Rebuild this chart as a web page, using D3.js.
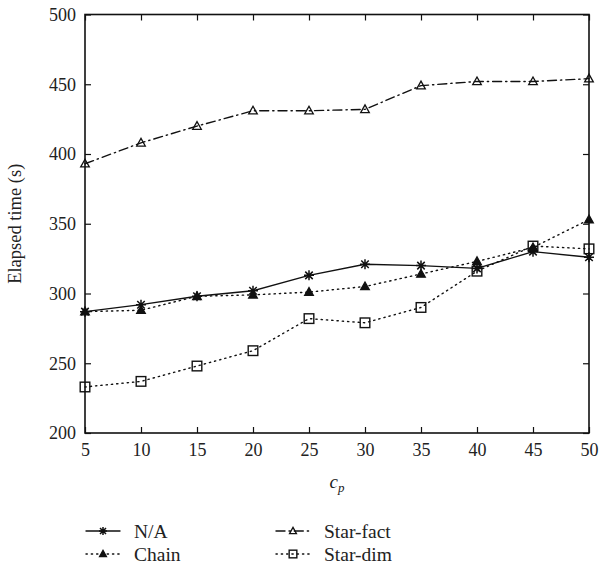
<!DOCTYPE html>
<html>
<head>
<meta charset="utf-8">
<script src="https://cdn.jsdelivr.net/npm/d3@7"></script>
<style>
  body { margin: 0; background: #fff; }
  text { font-family: "Liberation Serif", "DejaVu Serif", serif; fill: #222; }
</style>
</head>
<body>
<svg width="599" height="571"></svg>
<script>
// data
var cp = [5, 10, 15, 20, 25, 30, 35, 40, 45, 50];
var naValues = [287, 292, 298, 302, 313, 321, 320, 318, 330, 326];
var chainValues = [287, 288, 298, 299, 301, 305, 314, 323, 333, 353];
var starFactValues = [393, 408, 420, 431, 431, 432, 449, 452, 452, 454];
var starDimValues = [233, 237, 248, 259, 282, 279, 290, 316, 334, 332];
var yTicks = [200, 250, 300, 350, 400, 450, 500];

var series = [
  { name: "N/A", values: naValues, dash: null, marker: "star" },
  { name: "Chain", values: chainValues, dash: "1.3,4", marker: "filledTri" },
  { name: "Star-fact", values: starFactValues, dash: "9,4,1.3,4", marker: "openTri" },
  { name: "Star-dim", values: starDimValues, dash: "1.3,4", marker: "square" }
];

var svg = d3.select("svg");
var margin = { top: 14.5, right: 10, bottom: 138, left: 85 },
  width = 599 - margin.left - margin.right,
  height = 571 - margin.top - margin.bottom;

var g = svg.append("g")
  .attr("transform", "translate(" + margin.left + "," + margin.top + ")");

var x = d3.scaleLinear().domain([5, 50]).range([0, width]);
var y = d3.scaleLinear().domain([200, 500]).range([height, 0]);

// frame
g.append("rect")
  .attr("width", width).attr("height", height)
  .attr("fill", "none").attr("stroke", "#111").attr("stroke-width", 1.6);

// axes with inward ticks (mirrored on top/right)
var tickLen = 6;
g.append("g").attr("transform", "translate(0," + height + ")")
  .call(d3.axisBottom(x).tickValues(cp).tickSize(-tickLen).tickPadding(10))
  .call(styleAxis);
g.append("g")
  .call(d3.axisTop(x).tickValues(cp).tickSize(-tickLen).tickFormat(""))
  .call(styleAxis);
g.append("g")
  .call(d3.axisLeft(y).tickValues(yTicks).tickSize(-tickLen).tickPadding(9))
  .call(styleAxis);
g.append("g").attr("transform", "translate(" + width + ",0)")
  .call(d3.axisRight(y).tickValues(yTicks).tickSize(-tickLen).tickFormat(""))
  .call(styleAxis);

function styleAxis(sel) {
  sel.select(".domain").remove();
  sel.selectAll(".tick line").attr("stroke", "#111").attr("stroke-width", 1.2);
  sel.selectAll(".tick text")
    .attr("font-family", "Liberation Serif, serif")
    .attr("font-size", 18).attr("fill", "#222");
}

// axis labels
svg.append("text")
  .attr("transform", "translate(21," + (margin.top + height / 2) + ") rotate(-90)")
  .attr("text-anchor", "middle")
  .attr("font-size", 18.5)
  .text("Elapsed time (s)");

var xl = svg.append("text")
  .attr("x", margin.left + width / 2)
  .attr("y", 488)
  .attr("text-anchor", "middle")
  .attr("font-size", 19)
  .attr("font-style", "italic");
xl.append("tspan").text("c");
xl.append("tspan").attr("font-size", 13).attr("dy", 4).text("p");

// markers
function drawMarker(sel, type, k) {
  k = k || 1;
  if (type === "star") {
    var r = 5 * k;
    sel.append("path")
      .attr("d", "M" + -r + ",0H" + r + "M0," + -r + "V" + r +
        "M" + -r * 0.75 + "," + -r * 0.75 + "L" + r * 0.75 + "," + r * 0.75 +
        "M" + -r * 0.75 + "," + r * 0.75 + "L" + r * 0.75 + "," + -r * 0.75)
      .attr("stroke", "#111").attr("stroke-width", 1.5).attr("fill", "none");
  } else if (type === "filledTri" || type === "openTri") {
    sel.append("path")
      .attr("d", "M0," + -4.5 * k + "L" + 4.3 * k + "," + 3.2 * k + "L" + -4.3 * k + "," + 3.2 * k + "Z")
      .attr("fill", type === "filledTri" ? "#111" : "none")
      .attr("stroke", "#111").attr("stroke-width", 1.3);
  } else {
    var h = 4.8 * k;
    sel.append("rect")
      .attr("x", -h).attr("y", -h).attr("width", 2 * h).attr("height", 2 * h)
      .attr("fill", "none").attr("stroke", "#111").attr("stroke-width", 1.4);
  }
}

var line = d3.line()
  .x(function (d, i) { return x(cp[i]); })
  .y(function (d) { return y(d); });

series.forEach(function (s) {
  g.append("path")
    .datum(s.values)
    .attr("d", line)
    .attr("fill", "none")
    .attr("stroke", "#111")
    .attr("stroke-width", 1.4)
    .attr("stroke-linecap", "round")
    .attr("stroke-dasharray", s.dash);
  s.values.forEach(function (v, i) {
    var m = g.append("g").attr("transform", "translate(" + x(cp[i]) + "," + y(v) + ")");
    drawMarker(m, s.marker);
  });
});

// legend
var legendPos = [
  { x: 86, y: 531 }, { x: 86, y: 554 },
  { x: 276, y: 531 }, { x: 276, y: 554 }
];
series.forEach(function (s, j) {
  var p = legendPos[j];
  var lg = svg.append("g").attr("transform", "translate(" + p.x + "," + p.y + ")");
  lg.append("line")
    .attr("x1", 0).attr("x2", 34).attr("y1", 0).attr("y2", 0)
    .attr("stroke", "#111").attr("stroke-width", 1.4)
    .attr("stroke-linecap", "round")
    .attr("stroke-dasharray", s.dash);
  drawMarker(lg.append("g").attr("transform", "translate(17,0)"), s.marker, 0.8);
  lg.append("text")
    .attr("x", 48).attr("y", 6.5)
    .attr("font-size", 19.5)
    .text(s.name);
});
</script>
</body>
</html>
